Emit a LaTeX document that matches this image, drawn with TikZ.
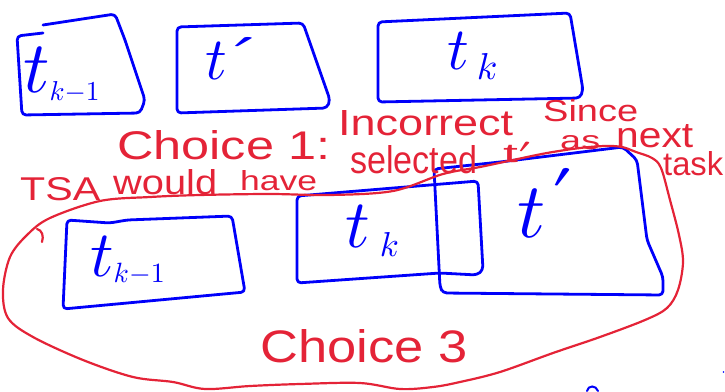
\documentclass[tikz,border=0pt]{standalone}
\usepackage{fontspec}
\usepackage{graphicx}
\newfontfamily\hand{Liberation Sans}
\definecolor{pen}{RGB}{0,0,250}
\definecolor{ink}{RGB}{228,35,55}
\newcommand{\fitbox}[3]{\resizebox{#1}{#2}{#3}}
\newcommand{\tall}[2]{\resizebox{!}{#1}{#2}}
\newcommand{\wide}[2]{\resizebox{#1}{!}{#2}}
\begin{document}
\begin{tikzpicture}[x=1pt,y=-1pt,
  bluebox/.style={draw=pen,line width=2.8pt,rounded corners=4pt,line join=round,line cap=round},
  redline/.style={draw=ink,line width=2.2pt,line cap=round,line join=round},
  redtxt/.style={text=ink,inner sep=0pt,font=\hand,anchor=base west},
  bluetxt/.style={text=pen,inner sep=0pt,anchor=base west}]
\useasboundingbox (0,0) rectangle (725,391);

% ---- top row boxes ----
\draw[bluebox] (43,33) -- (17,36) -- (22,115) -- (140,113) -- (145,100) -- (125,40) -- (115,14) -- (43,25);
\draw[bluebox] (177,27) -- (303,23) -- (330,100) -- (327,108) -- (177,113) -- cycle;
\draw[bluebox] (378,22) -- (570,13) -- (583,90) -- (580,98) -- (378,102) -- cycle;

\node[bluetxt] (t1) at (23,92)
  {\tall{45pt}{$t$}\raisebox{-8pt}{\wide{50pt}{$k{-}1$}}};
\node[bluetxt] (t2) at (205,79)
  {\tall{37pt}{$t$}\hspace{6pt}\raisebox{32pt}{\fitbox{20pt}{10pt}{$\prime$}}};
\node[bluetxt] (t3) at (447,69)
  {\tall{37pt}{$t$}\hspace{8pt}\raisebox{-10pt}{\tall{26pt}{$k$}}};

% ---- bottom row boxes ----
\draw[bluebox] (67,220) -- (110,223) -- (127,220) -- (232,216) -- (245,292) -- (63,309) -- cycle;
\draw[bluebox] (297,196) -- (478,181) -- (483,270) -- (477,275) -- (440,273) -- (297,283) -- cycle;
\draw[bluebox] (434,169) -- (500,162) -- (623,147) -- (637,160) -- (647,240) -- (663,277) -- (663,295) -- (443,293) -- (440,287) -- cycle;

\node[bluetxt] (t4) at (90,276)
  {\tall{40pt}{$t$}\raisebox{-6pt}{\wide{51pt}{$k{-}1$}}};
\node[bluetxt] (t5) at (345,247)
  {\tall{42pt}{$t$}\hspace{10pt}\raisebox{-9pt}{\tall{24pt}{$k$}}};
\node[bluetxt] (t6) at (517,237)
  {\tall{48pt}{$t$}\hspace{8pt}\raisebox{50pt}{\fitbox{17pt}{19pt}{$\prime$}}};

% small blue marks at the bottom
\draw[draw=pen,line width=2pt,line cap=round] (587,391) .. controls (588,385) and (596,385) .. (598,391);
\fill[pen] (723.5,372) circle (0.9);

% ---- red annotations ----
\node[redtxt] (c1) at (117,159) {\fitbox{213pt}{29pt}{Choice 1:}};
\node[redtxt] (c1b) at (338,135) {\fitbox{175pt}{25pt}{Incorrect}};
\node[redtxt] (c2) at (543,121) {\fitbox{95pt}{22pt}{Since}};
\node[redtxt] (c3a) at (20,200) {\fitbox{80pt}{23pt}{TSA}};
\node[redtxt] (c3b) at (113,194) {\fitbox{104pt}{25pt}{would}};
\node[redtxt] (c3c) at (240,190) {\fitbox{77pt}{20pt}{have}};
\node[redtxt] (c4) at (350,173) {\fitbox{127pt}{28pt}{selected}};
\node[redtxt] (c5) at (503,162) {\fitbox{30pt}{20pt}{t$'$}};
\node[redtxt] (c6) at (560,149) {\fitbox{40pt}{14pt}{as}};
\node[redtxt] (c7) at (616,147) {\fitbox{77pt}{23pt}{next}};
\node[redtxt] (c8) at (663,175) {\fitbox{60pt}{24pt}{task}};
\node[redtxt] (c9) at (260,362) {\fitbox{207pt}{33pt}{Choice 3}};

% red loop around choice 3
\draw[redline] plot[smooth cycle, tension=0.55] coordinates {
  (50,218) (100,201) (150,197) (200,195) (270,194) (330,195) (393,191)
  (443,174) (480,167) (513,160) (547,153) (580,148) (605,146) (622,147)
  (636,152) (652,158) (661,168) (670,200) (679,235) (683,262) (678,290)
  (667,308) (645,320) (600,337) (553,353) (500,372) (460,382) (433,387)
  (400,389) (360,383) (300,384) (250,386) (205,389) (173,382) (133,377)
  (83,360) (33,337) (8,318) (3,290) (10,257) (27,235)};
\draw[redline] (37,229) .. controls (42,230) and (44,236) .. (42,242);
\end{tikzpicture}
\end{document}
